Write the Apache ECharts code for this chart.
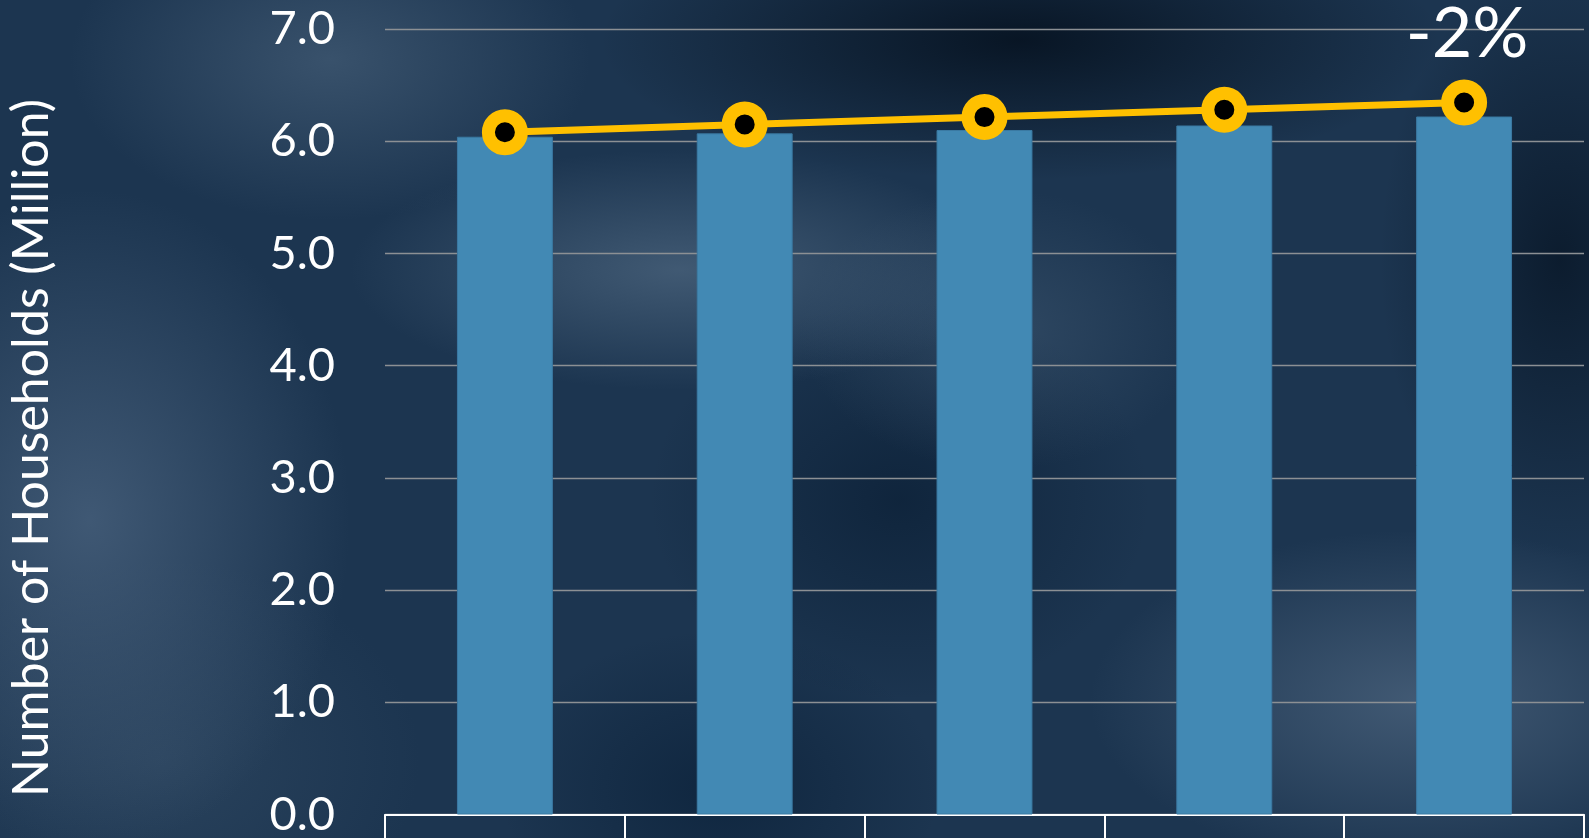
<!DOCTYPE html>
<html>
<head>
<meta charset="utf-8">
<script src="https://cdn.jsdelivr.net/npm/echarts@6/dist/echarts.min.js"></script>
<style>
  html, body { margin: 0; padding: 0; width: 1589px; height: 838px; overflow: hidden; }
  body {
    background-color: #1c3550;
    background-image:
      radial-gradient(ellipse 260px 160px at 330px 60px, rgba(80,105,130,0.55), rgba(80,105,130,0) 100%),
      radial-gradient(ellipse 260px 330px at 90px 520px, rgba(75,100,128,0.75), rgba(75,100,128,0) 100%),
      radial-gradient(ellipse 330px 120px at 680px 270px, rgba(80,105,130,0.7), rgba(80,105,130,0) 100%),
      radial-gradient(ellipse 200px 140px at 1000px 330px, rgba(70,95,120,0.45), rgba(70,95,120,0) 100%),
      radial-gradient(ellipse 420px 140px at 1020px 40px, rgba(6,18,32,0.9), rgba(6,18,32,0) 100%),
      radial-gradient(ellipse 180px 300px at 1560px 260px, rgba(8,22,38,0.8), rgba(8,22,38,0) 100%),
      radial-gradient(ellipse 250px 200px at 900px 500px, rgba(10,30,52,0.7), rgba(10,30,52,0) 100%),
      radial-gradient(ellipse 330px 170px at 1420px 700px, rgba(78,102,128,0.75), rgba(78,102,128,0) 100%),
      radial-gradient(ellipse 220px 160px at 720px 790px, rgba(10,32,56,0.7), rgba(10,32,56,0) 100%),
      radial-gradient(ellipse 260px 200px at 160px 760px, rgba(55,80,105,0.5), rgba(55,80,105,0) 100%);
  }
  #chart { width: 1589px; height: 838px; }
</style>
</head>
<body>
<div id="chart"></div>
<script>
// ---- data ----
const categories = ['1', '2', '3', '4', '5'];
const barValues = [6.04, 6.07, 6.10, 6.14, 6.22];
const lineValues = [6.08, 6.15, 6.215, 6.28, 6.345];
const yTicks = ['0.0', '1.0', '2.0', '3.0', '4.0', '5.0', '6.0', '7.0'];
const yTitle = 'Number of Households (Million)';
const changeLabel = '-2%';

const chart = echarts.init(document.getElementById('chart'), null, { renderer: 'canvas' });

const lineData = lineValues.map((v, i) => {
  if (i === lineValues.length - 1) {
    return {
      value: v,
      label: {
        show: true,
        position: 'top',
        distance: 10,
        offset: [3, 0],
        formatter: changeLabel,
        color: '#ffffff',
        fontFamily: 'Lato',
        fontSize: 70
      }
    };
  }
  return v;
});

chart.setOption({
  backgroundColor: 'transparent',
  animation: false,
  grid: { left: 385, right: 5, top: 29, bottom: 21, containLabel: false },
  xAxis: {
    type: 'category',
    data: categories,
    boundaryGap: true,
    axisLine: { show: true, lineStyle: { color: '#ffffff', width: 2 } },
    axisTick: { show: true, length: 30, lineStyle: { color: '#ffffff', width: 2 } },
    axisLabel: { show: false },
    splitLine: { show: false }
  },
  yAxis: {
    type: 'value',
    min: 0,
    max: 7,
    interval: 1,
    axisLine: { show: false },
    axisTick: { show: false },
    splitLine: { show: true, lineStyle: { color: '#8c9094', width: 1.4 } },
    axisLabel: {
      color: '#ffffff',
      fontFamily: 'Lato',
      fontSize: 47,
      margin: 50,
      formatter: (v) => yTicks[Math.round(v)]
    }
  },
  graphic: [{
    type: 'text',
    rotation: Math.PI / 2,
    x: 32,
    y: 448,
    style: {
      text: yTitle,
      fill: '#ffffff',
      font: '50px Lato',
      align: 'center',
      verticalAlign: 'middle'
    }
  }],
  series: [
    {
      type: 'bar',
      data: barValues,
      barWidth: '40%',
      itemStyle: { color: '#4289b4', borderColor: '#3b7aa3', borderWidth: 1 }
    },
    {
      type: 'line',
      data: lineData,
      symbol: 'circle',
      symbolSize: 33,
      lineStyle: { color: '#ffc000', width: 7 },
      itemStyle: { color: '#000000', borderColor: '#ffc000', borderWidth: 13 },
      z: 5
    }
  ]
});
</script>
</body>
</html>
